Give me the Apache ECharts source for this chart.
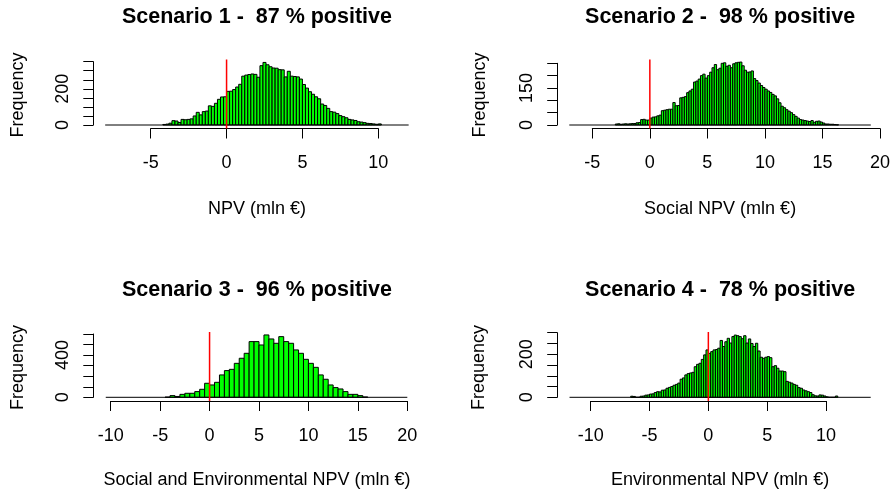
<!DOCTYPE html>
<html>
<head>
<meta charset="utf-8">
<script src="https://cdn.jsdelivr.net/npm/echarts@6/dist/echarts.min.js"></script>
<style>html,body{margin:0;padding:0;background:#fff}#c{width:890px;height:492px}</style>
</head>
<body>
<div id="c"></div>
<script>
// ---------------- data ----------------
const titles = ['Scenario 1 -  87 % positive', 'Scenario 2 -  98 % positive',
                'Scenario 3 -  96 % positive', 'Scenario 4 -  78 % positive'];
const xTitles = ['NPV (mln \u20ac)', 'Social NPV (mln \u20ac)',
                 'Social and Environmental NPV (mln \u20ac)', 'Environmental NPV (mln \u20ac)'];
const yTitle = 'Frequency';

// histogram bins: first non-empty bin start, bin width, full break range
const binStarts = [-4.2, -3.0, -4.5, -6.6];
const binWidths = [0.2, 0.2, 0.5, 0.2];
const breakRanges = [[-8, 12], [-7, 19.2], [-10.5, 20], [-11.8, 13.8]];

const counts1 = [3,5,10,24,22,14,31,29,31,34,
  50,70,56,74,77,106,103,120,142,155,
  156,186,187,196,210,225,270,276,279,282,
  280,264,328,346,333,322,315,314,306,305,
  266,297,270,268,266,254,224,204,184,170,
  156,145,116,108,92,74,71,63,52,46,
  40,31,28,25,18,16,13,9,8,6,
  4,6];
const counts2 = [4,5,3,4,5,4,5,6,6,9,
  10,22,23,20,20,28,32,33,37,40,
  58,60,62,64,64,91,78,79,110,112,
  115,131,138,145,174,178,186,200,206,190,
  200,214,232,245,224,230,250,252,238,242,
  232,248,252,254,255,240,222,214,215,219,
  188,180,170,160,152,145,138,132,124,118,
  106,90,76,70,62,56,50,42,35,28,
  22,20,18,16,14,18,11,15,16,12,
  8,4,4,3,3,2,1];
const counts3 = [2,16,8,28,38,38,54,76,133,117,
  142,212,253,265,322,370,417,528,528,496,
  591,553,512,575,528,512,449,417,360,322,
  284,212,171,117,92,79,54,28,28,16,3];
const counts4 = [5,4,0,0,5,6,10,11,15,16,
  22,26,25,33,34,42,46,50,56,60,
  66,84,90,104,110,113,116,142,153,158,
  176,197,220,204,212,220,222,228,264,236,
  258,274,252,282,289,286,282,272,286,252,
  271,250,236,251,215,186,181,186,189,184,
  142,147,135,122,122,119,74,70,66,60,
  56,45,42,34,30,26,22,12,7,6,
  11,10,6,2,0,0,0,6];
const allCounts = [counts1, counts2, counts3, counts4];

// axis ticks
const xTickRanges = [[-5, 10], [-5, 20], [-10, 20], [-10, 10]];
const xTickStep = 5;
const yTickRanges = [[0, 350, 50], [0, 250, 50], [0, 600, 100], [0, 300, 50]];
const yLabelValues = [[0, 200], [0, 150], [0, 400], [0, 200]];
const refLine = 0;

// ---------------- layout (pixels) ----------------
const layout = [
  {L: 93.3, R: 420.6, T: 59.5, B: 128.5, x1: 150.7, x2: 378.3, y0: 125, yTop: 61.7, titleY: 17, xTitleY: 209, freqX: 18},
  {L: 557.2, R: 883, T: 59.5, B: 128.5, x1: 592.3, x2: 880, y0: 125, yTop: 63.3, titleY: 17, xTitleY: 209, freqX: 480},
  {L: 93.3, R: 420.6, T: 332, B: 401, x1: 110.7, x2: 407.3, y0: 397.3, yTop: 334, titleY: 290, xTitleY: 480, freqX: 18},
  {L: 557.2, R: 883, T: 332, B: 401, x1: 590.7, x2: 826, y0: 397.3, yTop: 332.7, titleY: 290, xTitleY: 480, freqX: 479}
];
const FONT = '"Liberation Sans", Arial, Helvetica, sans-serif';

const grid = [], xAxis = [], yAxis = [], series = [], graphic = [];

layout.forEach((g, i) => {
  const [xa, xb] = xTickRanges[i];
  const sx = (g.x2 - g.x1) / (xb - xa);
  const xMinR = xa - (g.x1 - g.L) / sx;
  const xMaxR = xa + (g.R - g.x1) / sx;
  const [y0v, yMaxTick, yStep] = yTickRanges[i];
  const sy = (g.y0 - g.yTop) / yMaxTick;
  const yMinR = -(g.B - g.y0) / sy;
  const yMaxR = (g.y0 - g.T) / sy;

  // plot region (histogram)
  const h = grid.length;
  grid.push({left: g.L, top: g.T, width: g.R - g.L, height: g.B - g.T, outerBoundsMode: 'none'});
  xAxis.push({gridIndex: h, type: 'value', min: xMinR, max: xMaxR, show: false});
  yAxis.push({gridIndex: h, type: 'value', min: yMinR, max: yMaxR, show: false});

  // x axis with ticks
  const gx = grid.length;
  grid.push({left: g.x1, top: g.B - 10, width: g.x2 - g.x1, height: 10, outerBoundsMode: 'none'});
  xAxis.push({gridIndex: gx, type: 'value', min: xa, max: xb, interval: xTickStep, position: 'bottom',
    axisLine: {show: true, lineStyle: {color: '#000', width: 1}},
    axisTick: {show: true, length: 10, lineStyle: {color: '#000', width: 1}},
    axisLabel: {show: true, margin: 26, fontSize: 18, color: '#000', fontFamily: FONT,
      showMinLabel: true, showMaxLabel: true},
    splitLine: {show: false}});
  yAxis.push({gridIndex: gx, type: 'value', min: 0, max: 1, show: false});

  // y axis with ticks
  const gy = grid.length;
  grid.push({left: g.L, top: g.yTop, width: 10, height: g.y0 - g.yTop, outerBoundsMode: 'none'});
  xAxis.push({gridIndex: gy, type: 'value', min: 0, max: 1, show: false});
  const shown = yLabelValues[i];
  yAxis.push({gridIndex: gy, type: 'value', min: y0v, max: yMaxTick, interval: yStep, position: 'left',
    axisLine: {show: true, lineStyle: {color: '#000', width: 1}},
    axisTick: {show: true, length: 10, lineStyle: {color: '#000', width: 1}},
    axisLabel: {show: true, rotate: 90, margin: 21, fontSize: 18, color: '#000', fontFamily: FONT,
      showMinLabel: true, showMaxLabel: true,
      formatter: v => (shown.indexOf(v) >= 0 ? String(v) : '')},
    splitLine: {show: false}});

  // histogram bars
  const counts = allCounts[i];
  const start = binStarts[i], w = binWidths[i];
  const data = counts.map((c, k) => [start + k * w, start + (k + 1) * w, c]);
  series.push({
    type: 'custom', xAxisIndex: h, yAxisIndex: h, z: 3, silent: true,
    encode: {x: [0, 1], y: 2},
    data: data,
    renderItem: (params, api) => {
      const p0 = api.coord([api.value(0), 0]);
      const p1 = api.coord([api.value(1), api.value(2)]);
      return {type: 'rect',
        shape: {x: p0[0], y: p1[1], width: p1[0] - p0[0], height: p0[1] - p1[1]},
        style: {fill: '#00ff00', stroke: '#000', lineWidth: 1}};
    }
  });
  // empty-bin baseline
  series.push({
    type: 'line', xAxisIndex: h, yAxisIndex: h, z: 4, silent: true,
    data: [[breakRanges[i][0], 0], [breakRanges[i][1], 0]],
    symbol: 'none', lineStyle: {color: '#000', width: 1}
  });
  // red reference line at x = 0 across the plot region
  series.push({
    type: 'line', xAxisIndex: h, yAxisIndex: h, z: 10, silent: true,
    data: [[refLine, yMinR], [refLine, yMaxR]],
    symbol: 'none', lineStyle: {color: '#ff0000', width: 1.5}
  });

  const cx = (g.L + g.R) / 2;
  graphic.push({type: 'text', x: cx, y: g.titleY, silent: true,
    style: {text: titles[i], font: 'bold 21.5px ' + FONT, fill: '#000',
      textAlign: 'center', textVerticalAlign: 'middle', align: 'center', verticalAlign: 'middle'}});
  graphic.push({type: 'text', x: cx, y: g.xTitleY, silent: true,
    style: {text: xTitles[i], font: '18px ' + FONT, fill: '#000',
      textAlign: 'center', textVerticalAlign: 'middle', align: 'center', verticalAlign: 'middle'}});
  graphic.push({type: 'text', x: g.freqX, y: (g.T + g.B) / 2 + 1, rotation: Math.PI / 2, silent: true,
    style: {text: yTitle, font: '18px ' + FONT, fill: '#000',
      textAlign: 'center', textVerticalAlign: 'middle', align: 'center', verticalAlign: 'middle'}});
});

const chart = echarts.init(document.getElementById('c'), null, {renderer: 'canvas'});
chart.setOption({
  backgroundColor: '#fff',
  animation: false,
  grid, xAxis, yAxis, series, graphic
});
</script>
</body>
</html>
